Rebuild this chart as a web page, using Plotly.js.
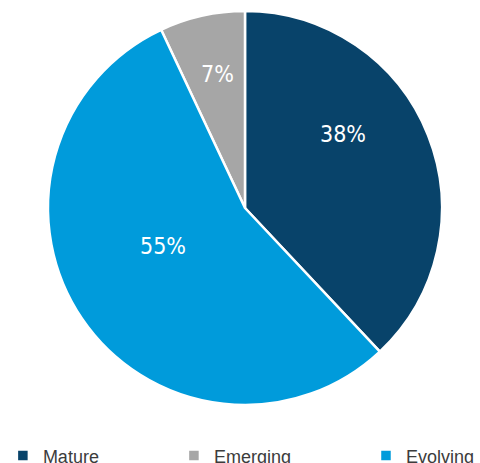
<!DOCTYPE html>
<html>
<head>
<meta charset="utf-8">
<script src="https://cdn.plot.ly/plotly-3.0.1.min.js"></script>
<style>html,body{margin:0;padding:0;background:#fff;}#chart{width:480px;height:463px;}</style>
</head>
<body>
<div id="chart"></div>
<script>
var categories = ['Mature', 'Emerging', 'Evolving'];
var shares = [38, 7, 55];
var sliceColors = ['#08436a', '#a6a6a6', '#009bdb'];

// label anchor points (paper coordinates) for the percentage labels
var labelPos = [[0.7156, 0.6975], [0.4531, 0.8330], [0.3396, 0.4436]];

// spacing between legend entries: pad all but the last entry
var PAD = '\u00a0'.repeat(14);
var legendLabels = categories.map(function (c, i) { return i < categories.length - 1 ? c + PAD : c; });

var trace = {
  type: 'pie',
  labels: legendLabels,
  values: shares,
  sort: false,
  direction: 'counterclockwise',
  rotation: 0,
  marker: {colors: sliceColors, line: {color: '#ffffff', width: 2.5}},
  textinfo: 'none',
  domain: {x: [0.1, 0.9208], y: [0.0858, 0.9752]},
  hoverinfo: 'label+percent'
};

var anns = shares.map(function (v, i) {
  return {
    xref: 'paper', yref: 'paper', x: labelPos[i][0], y: labelPos[i][1],
    xanchor: 'center', yanchor: 'middle', showarrow: false,
    text: v + '%',
    font: {family: 'DejaVu Sans Condensed, DejaVu Sans, sans-serif', size: 23, color: '#ffffff'}
  };
});

var layout = {
  width: 480,
  height: 463,
  margin: {l: 0, r: 0, t: 0, b: 20, autoexpand: false},
  paper_bgcolor: '#ffffff',
  showlegend: true,
  annotations: anns,
  legend: {
    orientation: 'h',
    x: 0.006,
    xanchor: 'left',
    y: -0.029,
    yanchor: 'middle',
    itemwidth: 30,
    font: {family: 'Liberation Sans, Arial, sans-serif', size: 18, color: '#3c3c3c'},
    traceorder: 'normal'
  }
};

Plotly.newPlot('chart', [trace], layout, {displayModeBar: false, staticPlot: true});
</script>
</body>
</html>
